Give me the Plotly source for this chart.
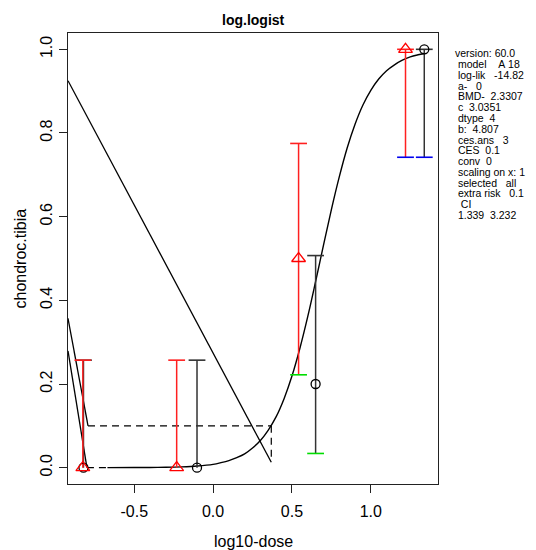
import plotly.graph_objects as go

# ---- data ----
black_x = [-0.822, -0.102, 0.650, 1.339]
black_y = [0.0, 0.0, 0.2, 1.0]
black_lo = [0.0, 0.0, 0.034, 0.742]
black_hi = [0.257, 0.257, 0.507, 1.0]

red_x = [-0.826, -0.231, 0.542, 1.220]
red_y = [0.0, 0.0, 0.5, 1.0]
red_lo = [0.0, 0.0, 0.222, 0.742]
red_hi = [0.257, 0.257, 0.775, 1.0]

curve_x = [-0.67, -0.5, -0.4, -0.3, -0.2, -0.1, 0.0, 0.05, 0.1, 0.15, 0.2, 0.25, 0.3, 0.35,
           0.4, 0.45, 0.5, 0.55, 0.6, 0.65, 0.7, 0.75, 0.8, 0.85, 0.9, 0.95, 1.0, 1.05,
           1.1, 1.15, 1.2, 1.25, 1.3, 1.339]
curve_y = [0.0001, 0.0003, 0.0005, 0.001, 0.002, 0.004, 0.008, 0.012, 0.017, 0.024, 0.033,
           0.047, 0.065, 0.09, 0.122, 0.165, 0.219, 0.285, 0.361, 0.445, 0.532, 0.617,
           0.695, 0.764, 0.821, 0.867, 0.902, 0.929, 0.949, 0.963, 0.974, 0.982, 0.987,
           0.990]

line_a_x = [-0.92, 0.369]
line_a_y = [0.925, 0.013]
line_b_x = [-0.92, -0.793]
line_b_y = [0.357, 0.1]
line_c_x = [-0.92, -0.800]
line_c_y = [0.279, 0.0]

ces_x = [-0.793, 0.369]
ces_y = [0.1, 0.1]
bmd_x = [0.369, 0.369]
bmd_y = [0.1, 0.014]
base_x = [-0.80, -0.67]
base_y = [0.0, 0.0]

x_ticks = [-0.5, 0.0, 0.5, 1.0]
x_tick_text = ["-0.5", "0.0", "0.5", "1.0"]
y_ticks = [0.0, 0.2, 0.4, 0.6, 0.8, 1.0]
y_tick_text = ["0.0", "0.2", "0.4", "0.6", "0.8", "1.0"]

info_lines = [
    "version: 60.0",
    " model    A 18",
    " log-lik   -14.82",
    " a-   0",
    " BMD-  2.3307",
    " c  3.0351",
    " dtype  4",
    " b:  4.807",
    " ces.ans   3",
    " CES  0.1",
    " conv  0",
    " scaling on x: 1",
    " selected   all",
    " extra risk   0.1",
    "  CI",
    " 1.339  3.232",
]

lo_cap_colors = [None, None, "#00dd00", "#0000ee"]

FONT = "Liberation Sans, Arial, Helvetica, sans-serif"

# page body has an 8px margin: the figure is sized and offset to compensate
OFF = 8
L, T, PW, PH = 68 - OFF, 33 - OFF, 370, 451

fig = go.Figure()


def seg(x, y, dash="solid", color="black", width=1.3):
    fig.add_trace(go.Scatter(x=x, y=y, mode="lines",
                             line=dict(color=color, width=width, dash=dash),
                             showlegend=False, hoverinfo="skip"))


seg(line_a_x, line_a_y)
seg(line_b_x, line_b_y)
seg(line_c_x, line_c_y)
seg(ces_x, ces_y, dash="7px,5px", width=1.2)
seg(bmd_x, bmd_y, dash="7px,5px", width=1.2)
seg(base_x, base_y, dash="7px,5px", width=1.2)

fig.add_trace(go.Scatter(x=curve_x, y=curve_y, mode="lines",
                         line=dict(color="black", width=1.4, shape="spline", smoothing=1.0),
                         showlegend=False, hoverinfo="skip"))


def bars(xs, los, his, color):
    vx, vy = [], []
    for x, lo, hi in zip(xs, los, his):
        vx += [x, x, None]
        vy += [lo, hi, None]
    fig.add_trace(go.Scatter(x=vx, y=vy, mode="lines",
                             line=dict(color=color, width=1.5),
                             showlegend=False, hoverinfo="skip"))
    fig.add_trace(go.Scatter(x=xs, y=his, mode="markers",
                             marker=dict(symbol="line-ew", size=12, color=color,
                                         line=dict(color=color, width=1.6)),
                             showlegend=False, hoverinfo="skip"))
    cx = [x for x, c in zip(xs, lo_cap_colors) if c]
    cy = [lo for lo, c in zip(los, lo_cap_colors) if c]
    cc = [c for c in lo_cap_colors if c]
    fig.add_trace(go.Scatter(x=cx, y=cy, mode="markers",
                             marker=dict(symbol="line-ew", size=12, color=cc,
                                         line=dict(color=cc, width=1.6)),
                             showlegend=False, hoverinfo="skip"))


bars(black_x, black_lo, black_hi, "#333333")
bars(red_x, red_lo, red_hi, "#ff2020")

fig.add_trace(go.Scatter(x=black_x, y=black_y, mode="markers",
                         marker=dict(symbol="circle-open", size=9, color="black",
                                     line=dict(color="black", width=1.3)),
                         showlegend=False, hoverinfo="skip"))
fig.add_trace(go.Scatter(x=red_x, y=red_y, mode="markers",
                         marker=dict(symbol="triangle-up-open", size=12, color="red",
                                     line=dict(color="red", width=1.3)),
                         showlegend=False, hoverinfo="skip"))


def px_x(p):
    return (p - 68) / PW


def px_y(p):
    return (484 - p) / PH


annotations = [
    dict(text="<b>log.logist</b>", xref="paper", yref="paper", x=0.5, y=px_y(20),
         xanchor="center", yanchor="middle", showarrow=False,
         font=dict(family=FONT, size=14, color="black")),
    dict(text="log10-dose", xref="paper", yref="paper", x=0.5, y=px_y(541),
         xanchor="center", yanchor="middle", showarrow=False,
         font=dict(family=FONT, size=16, color="black")),
    dict(text="chondroc.tibia", xref="paper", yref="paper", x=px_x(20), y=0.5,
         xanchor="center", yanchor="middle", textangle=-90, showarrow=False,
         font=dict(family=FONT, size=16, color="black")),
]
for i, t in enumerate(info_lines):
    ypix = 53.3 + i * 10.78
    annotations.append(dict(text=t.replace(" ", "\u00a0"), xref="paper", yref="paper",
                            x=px_x(452.5), y=px_y(ypix),
                            xanchor="left", yanchor="middle", showarrow=False,
                            font=dict(family=FONT, size=10.5, color="black")))

axis_common = dict(showline=True, mirror=True, linecolor="#222222", linewidth=1,
                   ticks="outside", ticklen=8, tickwidth=1, tickcolor="#222222",
                   showgrid=False, zeroline=False,
                   tickfont=dict(family=FONT, size=16, color="black"))

fig.update_layout(
    width=536 - OFF, height=550 - OFF, autosize=False,
    margin=dict(l=L, r=98, t=T, b=66, pad=0),
    paper_bgcolor="white", plot_bgcolor="white",
    xaxis=dict(range=[-0.92, 1.426], tickvals=x_ticks, ticktext=x_tick_text,
               ticklabelstandoff=5, **axis_common),
    yaxis=dict(range=[-0.039, 1.039], tickvals=y_ticks, ticktext=y_tick_text,
               tickangle=-90, ticklabelstandoff=1, **axis_common),
    annotations=annotations,
    showlegend=False,
)

fig.write_html("out.html")
